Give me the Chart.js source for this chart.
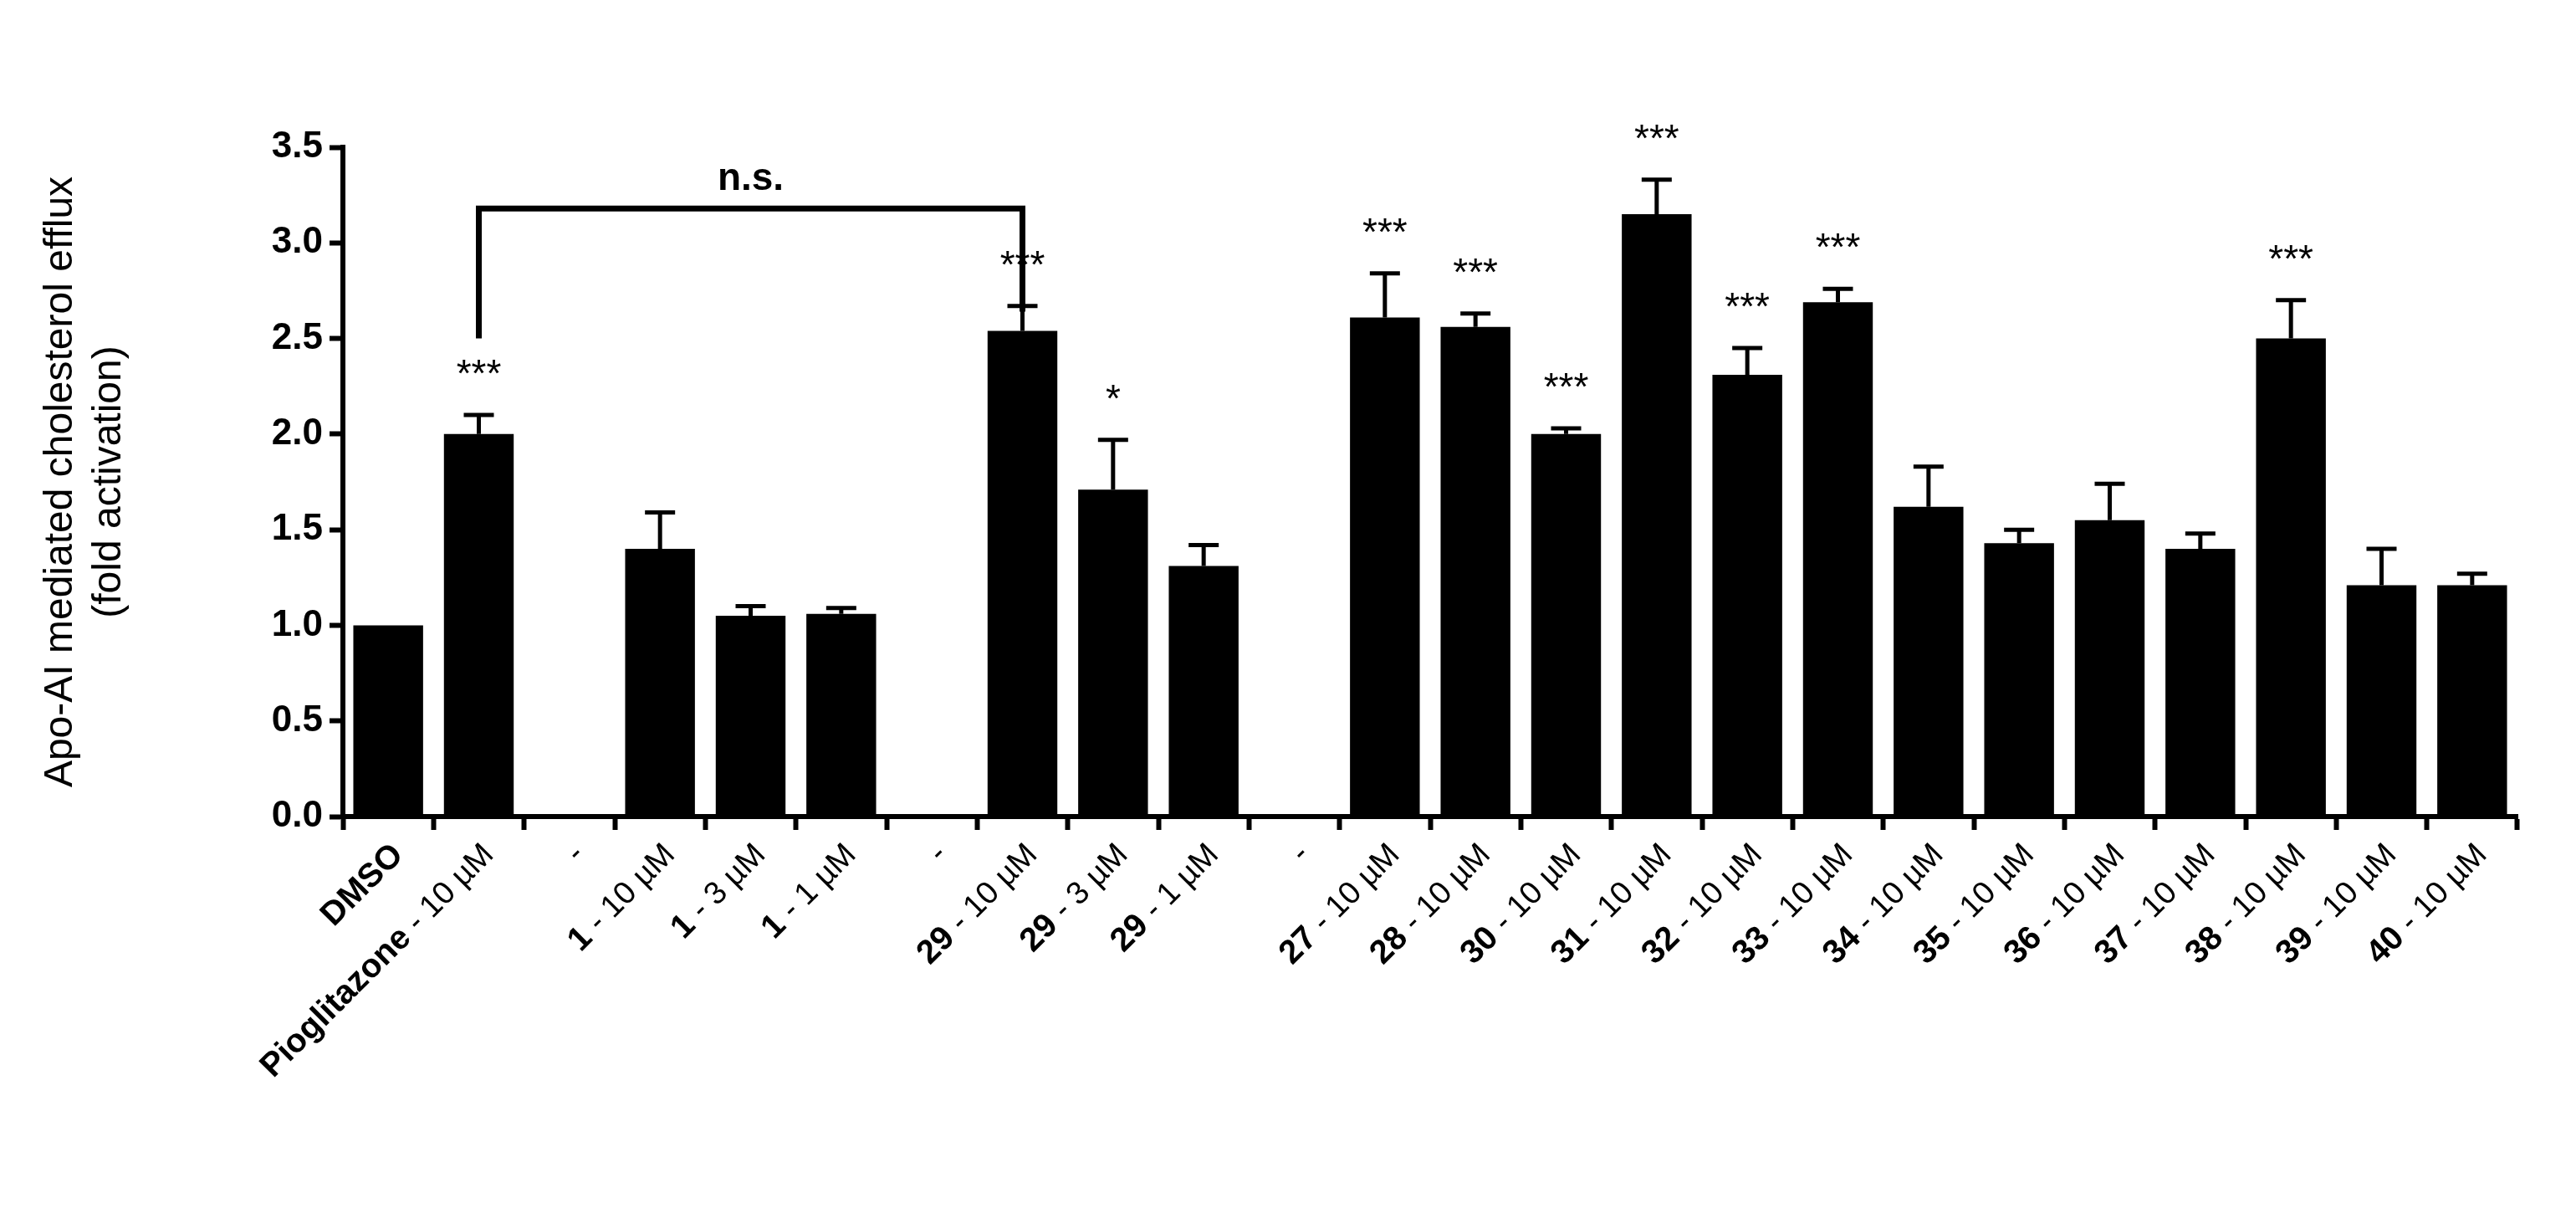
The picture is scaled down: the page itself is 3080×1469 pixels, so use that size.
<!DOCTYPE html>
<html><head><meta charset="utf-8">
<script src="https://cdn.jsdelivr.net/npm/chart.js@4"></script>
<style>body{margin:0;background:#fff}canvas{display:block}</style>
</head><body>
<div style="width:3080px;height:1469px"><canvas id="c" width="3080" height="1469"></canvas></div>
<script>
const labelBold = ['DMSO','Pioglitazone','','1','1','1','','29','29','29','','27','28','30','31','32','33','34','35','36','37','38','39','40'];
const labelRest = ['',' - 10 µM','-',' - 10 µM',' - 3 µM',' - 1 µM','-',' - 10 µM',' - 3 µM',' - 1 µM','-',' - 10 µM',' - 10 µM',' - 10 µM',' - 10 µM',' - 10 µM',' - 10 µM',' - 10 µM',' - 10 µM',' - 10 µM',' - 10 µM',' - 10 µM',' - 10 µM',' - 10 µM'];
const values = [1.0,2.0,0,1.40,1.05,1.06,0,2.54,1.71,1.31,0,2.61,2.56,2.00,3.15,2.31,2.69,1.62,1.43,1.55,1.40,2.50,1.21,1.21];
const errors = [0,0.10,0,0.19,0.05,0.03,0,0.13,0.26,0.11,0,0.23,0.07,0.03,0.18,0.14,0.07,0.21,0.07,0.19,0.08,0.20,0.19,0.06];
const stars = ['','***','','','','','','***','*','','','***','***','***','***','***','***','','','','','***','',''];
const yTicks = [0,0.5,1,1.5,2,2.5,3,3.5];
const labels = labelBold.map((b,i)=>b+labelRest[i]);
const FONT = '"Liberation Sans", Arial, sans-serif';

const deco = {
  id:'deco',
  afterDatasetsDraw(chart){
    const {ctx, scales:{x,y}} = chart;
    const meta = chart.getDatasetMeta(0);
    ctx.save();
    ctx.strokeStyle='#000'; ctx.fillStyle='#000'; ctx.lineWidth=5;
    meta.data.forEach((bar,i)=>{
      if(!values[i]) return;
      const cx=bar.x, top=y.getPixelForValue(values[i]), et=y.getPixelForValue(values[i]+errors[i]);
      if(errors[i]>0){
        ctx.beginPath(); ctx.moveTo(cx,top); ctx.lineTo(cx,et);
        ctx.moveTo(cx-18,et); ctx.lineTo(cx+18,et); ctx.stroke();
      }
      if(stars[i]){
        ctx.font='46px '+FONT; ctx.textAlign='center'; ctx.textBaseline='alphabetic';
        ctx.fillText(stars[i], cx, et-34);
      }
    });
    const x1=meta.data[1].x, x2=meta.data[7].x, yb=y.getPixelForValue(3.18);
    ctx.lineWidth=7;
    ctx.beginPath();
    ctx.moveTo(x1,y.getPixelForValue(2.5)); ctx.lineTo(x1,yb); ctx.lineTo(x2,yb); ctx.lineTo(x2,y.getPixelForValue(2.64));
    ctx.stroke();
    ctx.font='bold 46px '+FONT; ctx.textAlign='center';
    ctx.fillText('n.s.', (x1+x2)/2, yb-22);
    const base = x.top + 40;
    meta.data.forEach((bar,i)=>{
      ctx.save();
      ctx.translate(bar.x+12, base);
      ctx.rotate(-Math.PI/4);
      ctx.textAlign='left'; ctx.textBaseline='middle';
      ctx.font='38px '+FONT;
      const rw=ctx.measureText(labelRest[i]).width;
      ctx.font='bold 40px '+FONT;
      const bw=ctx.measureText(labelBold[i]).width;
      const start=-(rw+bw);
      ctx.fillText(labelBold[i], start, 0);
      ctx.font='38px '+FONT;
      ctx.fillText(labelRest[i], start+bw, 0);
      ctx.restore();
    });
    ctx.restore();
  }
};

new Chart(document.getElementById('c'),{
  type:'bar',
  data:{labels, datasets:[{data:values, backgroundColor:'#000', borderWidth:0, categoryPercentage:1, barPercentage:0.77}]},
  options:{
    responsive:false, animation:false,
    layout:{padding:{left:40,right:70,top:176,bottom:0}},
    plugins:{legend:{display:false},tooltip:{enabled:false}},
    scales:{
      x:{
        grid:{display:true,drawOnChartArea:false,drawTicks:true,tickLength:16,tickWidth:6,color:'#000',offset:true},
        border:{display:true,width:6,color:'#000'},
        ticks:{callback:()=>'',maxRotation:0},
        afterFit(s){s.height=1469-976;}
      },
      y:{
        min:0,max:3.5,
        afterBuildTicks(s){s.ticks=yTicks.map(v=>({value:v}));},
        grid:{display:true,drawOnChartArea:false,tickLength:16,tickWidth:6,color:'#000'},
        border:{display:true,width:6,color:'#000'},
        ticks:{color:'#000',font:{family:FONT,size:44,weight:'bold'},callback:v=>v.toFixed(1),padding:8},
        title:{display:true,text:['Apo-AI mediated cholesterol efflux','(fold activation)'],color:'#000',font:{family:FONT,size:48},padding:{bottom:24}},
        afterFit(s){s.width=370;}
      }
    }
  },
  plugins:[deco]
});
</script>
</body></html>
